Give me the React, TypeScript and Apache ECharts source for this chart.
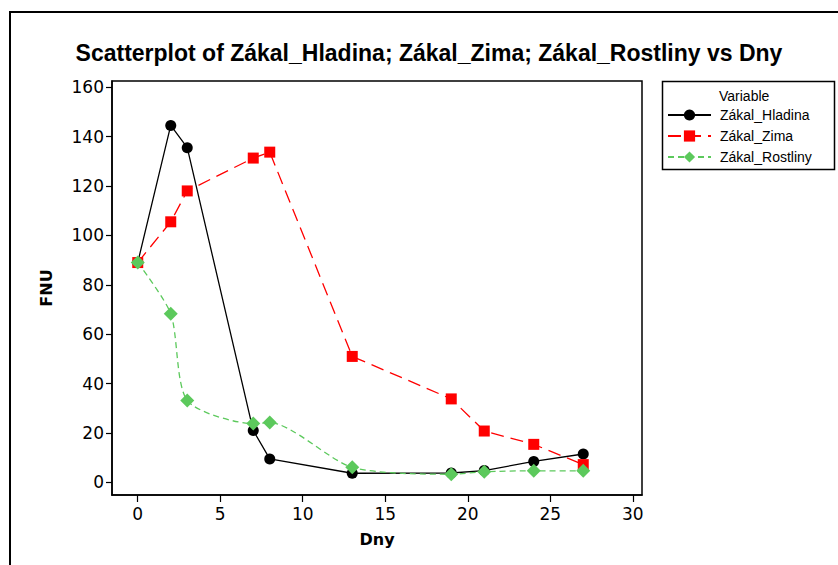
import React, { useEffect, useRef } from "react";
import * as echarts from "echarts";

const days = [0, 2, 3, 7, 8, 13, 19, 21, 24, 27];
const hladina = [89, 144.5, 135.5, 21, 9.5, 3.7, 3.8, 4.8, 8.5, 11.5];
const zima = [89, 105.5, 118, 131.3, 133.7, 51, 33.8, 20.8, 15.4, 7.2];
const rostliny = [89, 68.3, 33.2, 23.8, 24.2, 6.1, 3.3, 4.3, 4.7, 4.7];
const xTicks = [0, 5, 10, 15, 20, 25, 30];
const yTicks = [0, 20, 40, 60, 80, 100, 120, 140, 160];

const FONT = "DejaVu Sans";

function pairs(ys: number[]) {
  return days.map((d, i) => [d, ys[i]]);
}

export default function App() {
  const ref = useRef<HTMLDivElement>(null);
  useEffect(() => {
    if (!ref.current) return;
    const chart = echarts.init(ref.current, undefined, { renderer: "svg" });
    chart.setOption({
      animation: false,
      backgroundColor: "#fff",
      textStyle: { fontFamily: FONT },
      grid: {
        left: 112,
        top: 81,
        width: 530,
        height: 414,
        show: true,
        borderColor: "#000",
        borderWidth: 1.5,
        backgroundColor: "transparent",
      },
      xAxis: {
        type: "value",
        min: -1.56,
        max: 30.56,
        name: "Dny",
        nameLocation: "middle",
        nameGap: 36,
        nameTextStyle: { fontFamily: FONT, fontWeight: "bold", fontSize: 16, color: "#000" },
        axisLine: { show: true, onZero: false, lineStyle: { color: "#000", width: 1.5 } },
        axisTick: { show: true, length: 7, customValues: xTicks, lineStyle: { color: "#000", width: 1.2 } },
        axisLabel: { customValues: xTicks, margin: 10, fontSize: 17, color: "#000", fontFamily: FONT },
        splitLine: { show: false },
      },
      yAxis: {
        type: "value",
        min: -5.1,
        max: 162.5,
        name: "FNU",
        nameLocation: "middle",
        nameGap: 58,
        nameRotate: 90,
        nameTextStyle: { fontFamily: FONT, fontWeight: "bold", fontSize: 16, color: "#000" },
        axisLine: { show: true, onZero: false, lineStyle: { color: "#000", width: 1.5 } },
        axisTick: { show: true, length: 6, customValues: yTicks, lineStyle: { color: "#000", width: 1.2 } },
        axisLabel: { customValues: yTicks, margin: 8, fontSize: 17, color: "#000", fontFamily: FONT },
        splitLine: { show: false },
      },
      legend: {
        orient: "vertical",
        left: 662,
        top: 103,
        itemWidth: 43,
        itemHeight: 14,
        itemGap: 7,
        textStyle: { fontFamily: "Liberation Sans", fontSize: 14, color: "#000", padding: [0, 0, 0, 4] },
        data: ["Zákal_Hladina", "Zákal_Zima", "Zákal_Rostliny"],
      },
      graphic: [
        {
          type: "rect",
          shape: { x: 10, y: 12, width: 900, height: 700 },
          style: { fill: "none", stroke: "#000", lineWidth: 2 },
          silent: true,
        },
        {
          type: "rect",
          shape: { x: 662.5, y: 81.5, width: 172, height: 88 },
          style: { fill: "none", stroke: "#000", lineWidth: 1.5 },
          silent: true,
        },
        {
          type: "text",
          x: 719,
          y: 96,
          style: { text: "Variable", fontFamily: "Liberation Sans", fontSize: 14, fill: "#000", textVerticalAlign: "middle" },
          silent: true,
        },
        {
          type: "text",
          x: 429,
          y: 53,
          style: {
            text: "Scatterplot of Zákal_Hladina; Zákal_Zima; Zákal_Rostliny vs Dny",
            fontFamily: "Liberation Sans",
            fontWeight: "bold",
            fontSize: 23,
            fill: "#000",
            textAlign: "center",
            textVerticalAlign: "middle",
          },
          silent: true,
        },
      ],
      series: [
        {
          name: "Zákal_Hladina",
          type: "line",
          data: pairs(hladina),
          symbol: "circle",
          symbolSize: 11,
          itemStyle: { color: "#000" },
          lineStyle: { color: "#000", width: 1.3, type: "solid" },
        },
        {
          name: "Zákal_Zima",
          type: "line",
          data: pairs(zima),
          symbol: "rect",
          symbolSize: 11,
          itemStyle: { color: "#ff0000" },
          lineStyle: { color: "#ff0000", width: 1.3, type: [13, 7] },
        },
        {
          name: "Zákal_Rostliny",
          type: "line",
          data: pairs(rostliny),
          symbol: "diamond",
          symbolSize: 14,
          smooth: 0.25,
          itemStyle: { color: "#5cc95c" },
          lineStyle: { color: "#5cc95c", width: 1.3, type: [6, 4] },
        },
      ],
    });
    return () => chart.dispose();
  }, []);
  return (
    <div
      ref={ref}
      style={{ position: "fixed", left: 0, top: 0, width: 838, height: 565, background: "#fff" }}
    />
  );
}
